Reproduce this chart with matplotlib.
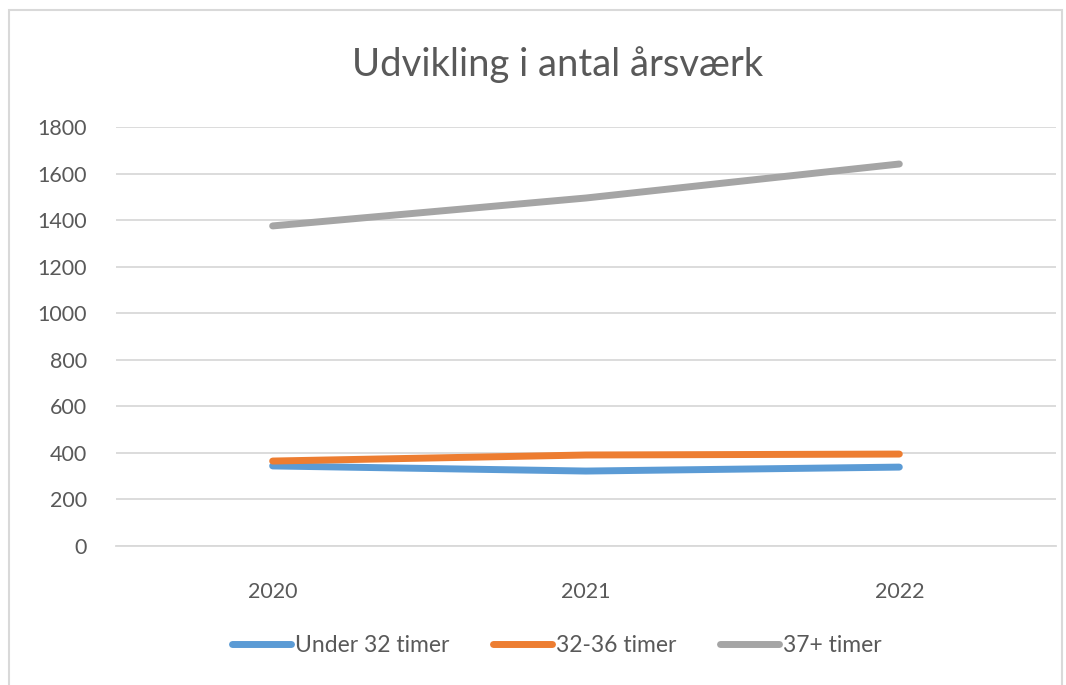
import matplotlib.pyplot as plt
from matplotlib.patches import Rectangle

plt.rcParams['font.family'] = ['Lato', 'DejaVu Sans']

years = ['2020', '2021', '2022']
under_32 = [344, 322, 339]
timer_32_36 = [365, 391, 395]
timer_37 = [1375, 1495, 1641]
labels = ['Under 32 timer', '32-36 timer', '37+ timer']
colors = ['#5B9BD5', '#ED7D31', '#A5A5A5']
text_col = '#595959'

fig = plt.figure(figsize=(10.66, 6.85), dpi=100)
ax = fig.add_axes([0.1088, 0.2029, 0.8818, 0.6117])

x = range(len(years))
for vals, lab, c in zip([under_32, timer_32_36, timer_37], labels, colors):
    ax.plot(x, vals, color=c, lw=5, solid_capstyle='round', label=lab)

ax.set_xlim(-0.5, 2.5)
ax.set_ylim(0, 1800)
ax.set_yticks(range(0, 1801, 200))
ax.set_xticks(list(x))
ax.set_xticklabels(years)
ax.grid(axis='y', color='#d9d9d9', lw=1.3)
ax.set_axisbelow(True)
for s in ['top', 'right', 'left']:
    ax.spines[s].set_visible(False)
ax.spines['bottom'].set_color('#d9d9d9')
ax.spines['bottom'].set_linewidth(1.3)
ax.tick_params(length=0, labelsize=15.5, colors=text_col)
ax.tick_params(axis='y', pad=21)
ax.tick_params(axis='x', pad=26)

fig.text(0.523, 0.905, 'Udvikling i antal årsværk', ha='center', va='center',
         fontsize=27.5, color=text_col)

leg = fig.legend(loc='center', bbox_to_anchor=(0.522, 0.058), ncol=3, frameon=False,
                 fontsize=16.5, labelcolor=text_col, handlelength=2.6,
                 handletextpad=0.15, columnspacing=1.9)
for h in leg.get_lines():
    h.set_solid_capstyle('round')

fig.patches.append(Rectangle((9 / 1066, -0.02), 1053 / 1066, 1.02 - 10 / 685,
                             transform=fig.transFigure, fill=False,
                             edgecolor='#d9d9d9', lw=1.5))

fig.savefig('out.png', dpi=100)
